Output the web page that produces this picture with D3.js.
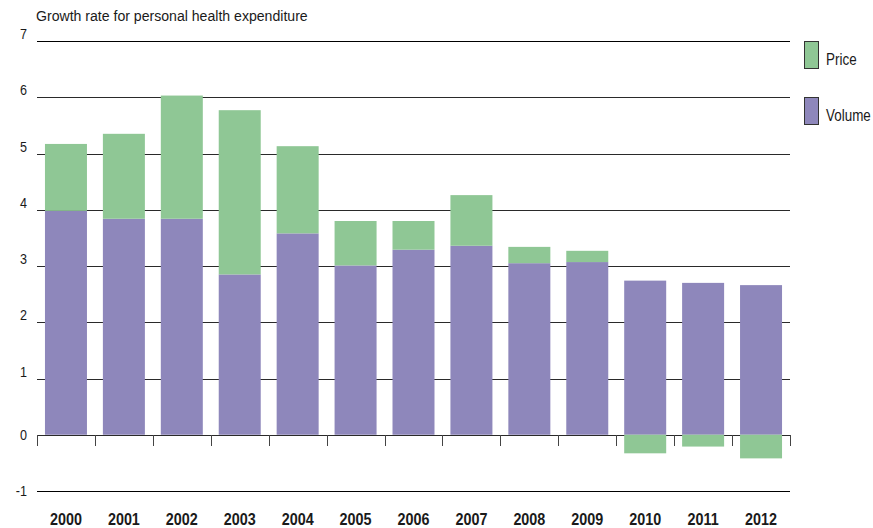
<!DOCTYPE html>
<html>
<head>
<meta charset="utf-8">
<script src="https://cdn.jsdelivr.net/npm/d3@7/dist/d3.min.js"></script>
<style>
  body { margin: 0; background: #fff; }
  svg { display: block; font-family: "Liberation Sans", Arial, sans-serif; }
  .gridLine { stroke: #262626; stroke-width: 1; shape-rendering: crispEdges; }
  .axisText { font-size: 15px; fill: #1a1a1a; }
  .yearText { font-size: 16.5px; font-weight: bold; fill: #1a1a1a; }
</style>
</head>
<body>
<div id="chart"></div>
<script>
const years = ["2000", "2001", "2002", "2003", "2004", "2005", "2006", "2007", "2008", "2009", "2010", "2011", "2012"];
const volume = [3.98, 3.84, 3.84, 2.85, 3.58, 3.01, 3.29, 3.36, 3.05, 3.07, 2.74, 2.70, 2.66];
const price = [1.19, 1.51, 2.19, 2.92, 1.55, 0.79, 0.51, 0.90, 0.29, 0.20, -0.33, -0.21, -0.42];
const yTicks = [-1, 0, 1, 2, 3, 4, 5, 6, 7];
const seriesNames = ["Volume", "Price"];
const colors = { Volume: "#8e87bb", Price: "#8fc795" };

const width = 873, height = 528;
const plotLeft = 37, plotRight = 790, plotTop = 41, plotBottom = 491;
const narrow = 0.84; // squeeze Liberation Sans into a condensed look

const rows = years.map((y, i) => ({ year: y, Volume: volume[i], Price: price[i] }));

const svg = d3.select("#chart").append("svg")
    .attr("width", width)
    .attr("height", height);

const x = d3.scaleBand()
    .domain(years)
    .range([plotLeft, plotRight])
    .paddingInner(0.275)
    .paddingOuter(0.1375);

const y = d3.scaleLinear()
    .domain([d3.min(yTicks), d3.max(yTicks)])
    .range([plotBottom, plotTop]);

const place = (px, py, k = narrow) => `translate(${px},${py}) scale(${k},1)`;

// title
svg.append("text")
    .attr("class", "axisText")
    .style("font-size", "15.5px")
    .attr("transform", place(plotLeft - 1, 21, 0.91))
    .text("Growth rate for personal health expenditure");

// horizontal grid lines
svg.append("g").selectAll("line")
    .data(yTicks)
    .join("line")
    .attr("class", "gridLine")
    .attr("x1", plotLeft)
    .attr("x2", plotRight)
    .attr("y1", d => Math.round(y(d)) + 0.5)
    .attr("y2", d => Math.round(y(d)) + 0.5)
    .style("stroke", d => (d === 7 || d === -1) ? "#000" : "#2a2a2a");

// y labels: sit on the line for positive values, centred on it otherwise
svg.append("g").selectAll("text")
    .data(yTicks)
    .join("text")
    .attr("class", "axisText")
    .attr("transform", d => place(27, d > 0 ? y(d) - 2 : y(d) + 5))
    .attr("text-anchor", "end")
    .text(d => d);

// tick marks below zero line at band edges
const step = x.step();
const edges = d3.range(years.length + 1).map(i => plotLeft + i * step);
svg.append("g").selectAll("line")
    .data(edges)
    .join("line")
    .attr("class", "gridLine")
    .attr("x1", d => Math.round(d) + 0.5)
    .attr("x2", d => Math.round(d) + 0.5)
    .attr("y1", Math.round(y(0)))
    .attr("y2", Math.round(y(0)) + 11)
    .style("stroke", "#444");

// stacked bars (negative price goes below zero)
const stack = d3.stack()
    .keys(seriesNames)
    .offset(d3.stackOffsetDiverging);

svg.append("g").selectAll("g")
    .data(stack(rows))
    .join("g")
    .attr("fill", d => colors[d.key])
    .selectAll("rect")
    .data(d => d)
    .join("rect")
    .attr("x", d => x(d.data.year))
    .attr("width", x.bandwidth())
    .attr("y", d => y(Math.max(d[0], d[1])))
    .attr("height", d => Math.abs(y(d[0]) - y(d[1])));

// year labels
svg.append("g").selectAll("text")
    .data(years)
    .join("text")
    .attr("class", "yearText")
    .attr("transform", d => place(x(d) + x.bandwidth() / 2, 525, 0.87))
    .attr("text-anchor", "middle")
    .text(d => d);

// legend
const legendItems = ["Price", "Volume"];
const legend = svg.append("g").selectAll("g")
    .data(legendItems)
    .join("g")
    .attr("transform", (d, i) => `translate(804.5,${41.5 + i * 56})`);

legend.append("rect")
    .attr("width", 14)
    .attr("height", 27)
    .attr("fill", d => colors[d])
    .attr("stroke", "#333")
    .attr("stroke-width", 1);

legend.append("text")
    .attr("class", "axisText")
    .style("font-size", "16px")
    .attr("transform", place(21.5, 23.5))
    .text(d => d);
</script>
</body>
</html>
